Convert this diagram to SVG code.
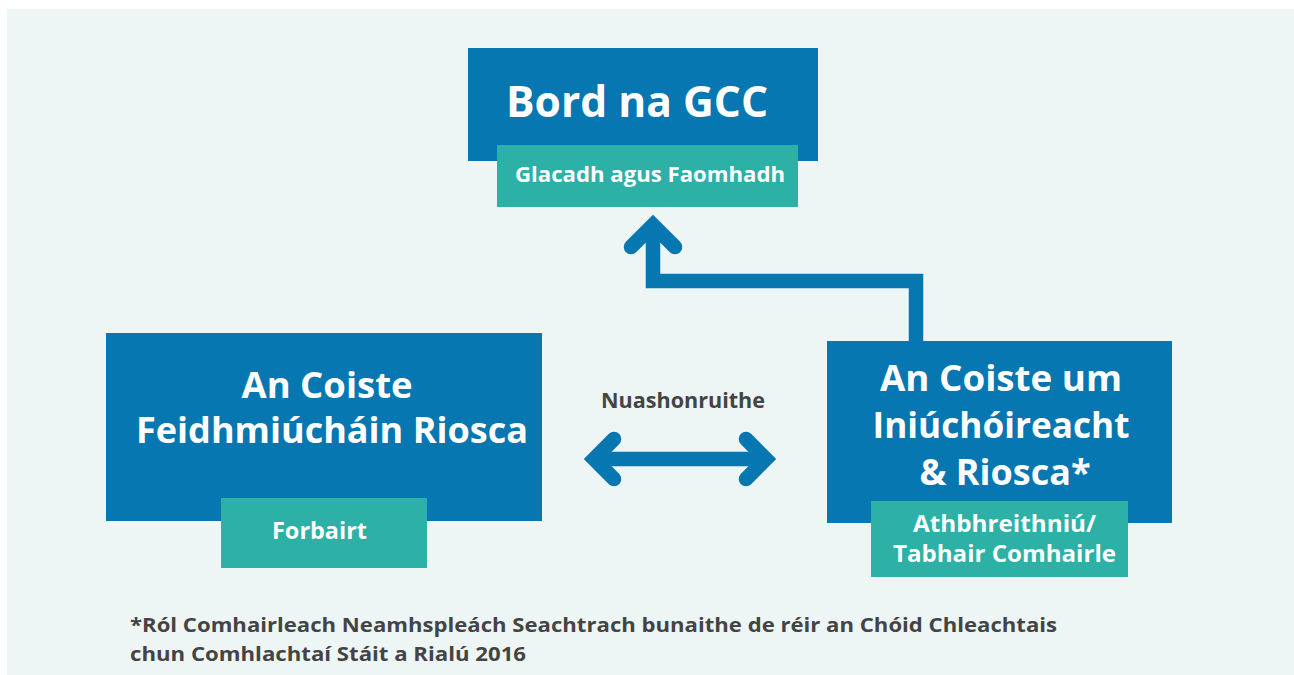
<svg xmlns="http://www.w3.org/2000/svg" width="1294" height="675" viewBox="0 0 1294 675">
<style>
.blue{fill:#0677b0}
.teal{fill:#2db0a6}
.t{font-family:"Open Sans","Noto Sans",sans-serif;font-weight:700;fill:#ffffff;text-anchor:middle}
.big{font-size:43px}
.mid{font-size:36px}
.sm{font-size:22px}
.sl{font-size:24px}
.g{font-family:"Open Sans","Noto Sans",sans-serif;font-weight:700;fill:#444444}
.c{fill:none;stroke:#0677b0;stroke-width:14.5}
</style>
<rect x="0" y="0" width="1294" height="675" fill="#ffffff"/>
<rect x="7" y="9" width="1287" height="666" fill="#eef6f5"/>
<g id="connectors">
<polyline class="c" points="916,341 916,281 653,281 653,222" stroke-linejoin="miter"/>
<polyline class="c" points="631,247 653,225 675,247" stroke-linecap="round" stroke-linejoin="miter"/>
<line class="c" x1="594" y1="459" x2="766" y2="459"/>
<polyline class="c" points="614,439 594,459 614,479" stroke-linecap="round"/>
<polyline class="c" points="746,439 766,459 746,479" stroke-linecap="round"/>
<text class="g" x="683" y="408" font-size="21" text-anchor="middle" textLength="164" lengthAdjust="spacingAndGlyphs">Nuashonruithe</text>
</g>
<g id="bord">
<rect class="blue" x="468" y="48" width="350" height="113"/>
<text class="t big" x="637" y="117" textLength="262" lengthAdjust="spacingAndGlyphs">Bord na GCC</text>
<rect class="teal" x="497" y="145" width="301" height="62"/>
<text class="t sm" x="650" y="182" textLength="270" lengthAdjust="spacingAndGlyphs">Glacadh agus Faomhadh</text>
</g>
<g id="feidhmiuchain">
<rect class="blue" x="106" y="333" width="436" height="188"/>
<text class="t mid" x="327" y="398" textLength="171" lengthAdjust="spacingAndGlyphs">An Coiste</text>
<text class="t mid" x="332" y="443" textLength="392" lengthAdjust="spacingAndGlyphs">Feidhmiúcháin Riosca</text>
<rect class="teal" x="221" y="498" width="206" height="70"/>
<text class="t sl" x="319.5" y="539" textLength="95" lengthAdjust="spacingAndGlyphs">Forbairt</text>
</g>
<g id="iniuchoireacht">
<rect class="blue" x="827" y="341" width="345" height="182"/>
<text class="t mid" x="1001" y="391" textLength="242" lengthAdjust="spacingAndGlyphs">An Coiste um</text>
<text class="t mid" x="1001" y="438" textLength="257" lengthAdjust="spacingAndGlyphs">Iniúchóireacht</text>
<text class="t mid" x="1005" y="485" textLength="171" lengthAdjust="spacingAndGlyphs">&amp; Riosca*</text>
<rect class="teal" x="871" y="501" width="257" height="76"/>
<text class="t sl" x="1004.5" y="532" textLength="183" lengthAdjust="spacingAndGlyphs">Athbhreithniú/</text>
<text class="t sl" x="1004.5" y="562" textLength="223" lengthAdjust="spacingAndGlyphs">Tabhair Comhairle</text>
</g>
<g id="footnote">
<text class="g" x="130" y="632" font-size="20" textLength="927" lengthAdjust="spacingAndGlyphs">*Ról Comhairleach Neamhspleách Seachtrach bunaithe de réir an Chóid Chleachtais</text>
<text class="g" x="130" y="661" font-size="20" textLength="396" lengthAdjust="spacingAndGlyphs">chun Comhlachtaí Stáit a Rialú 2016</text>
</g>
</svg>
